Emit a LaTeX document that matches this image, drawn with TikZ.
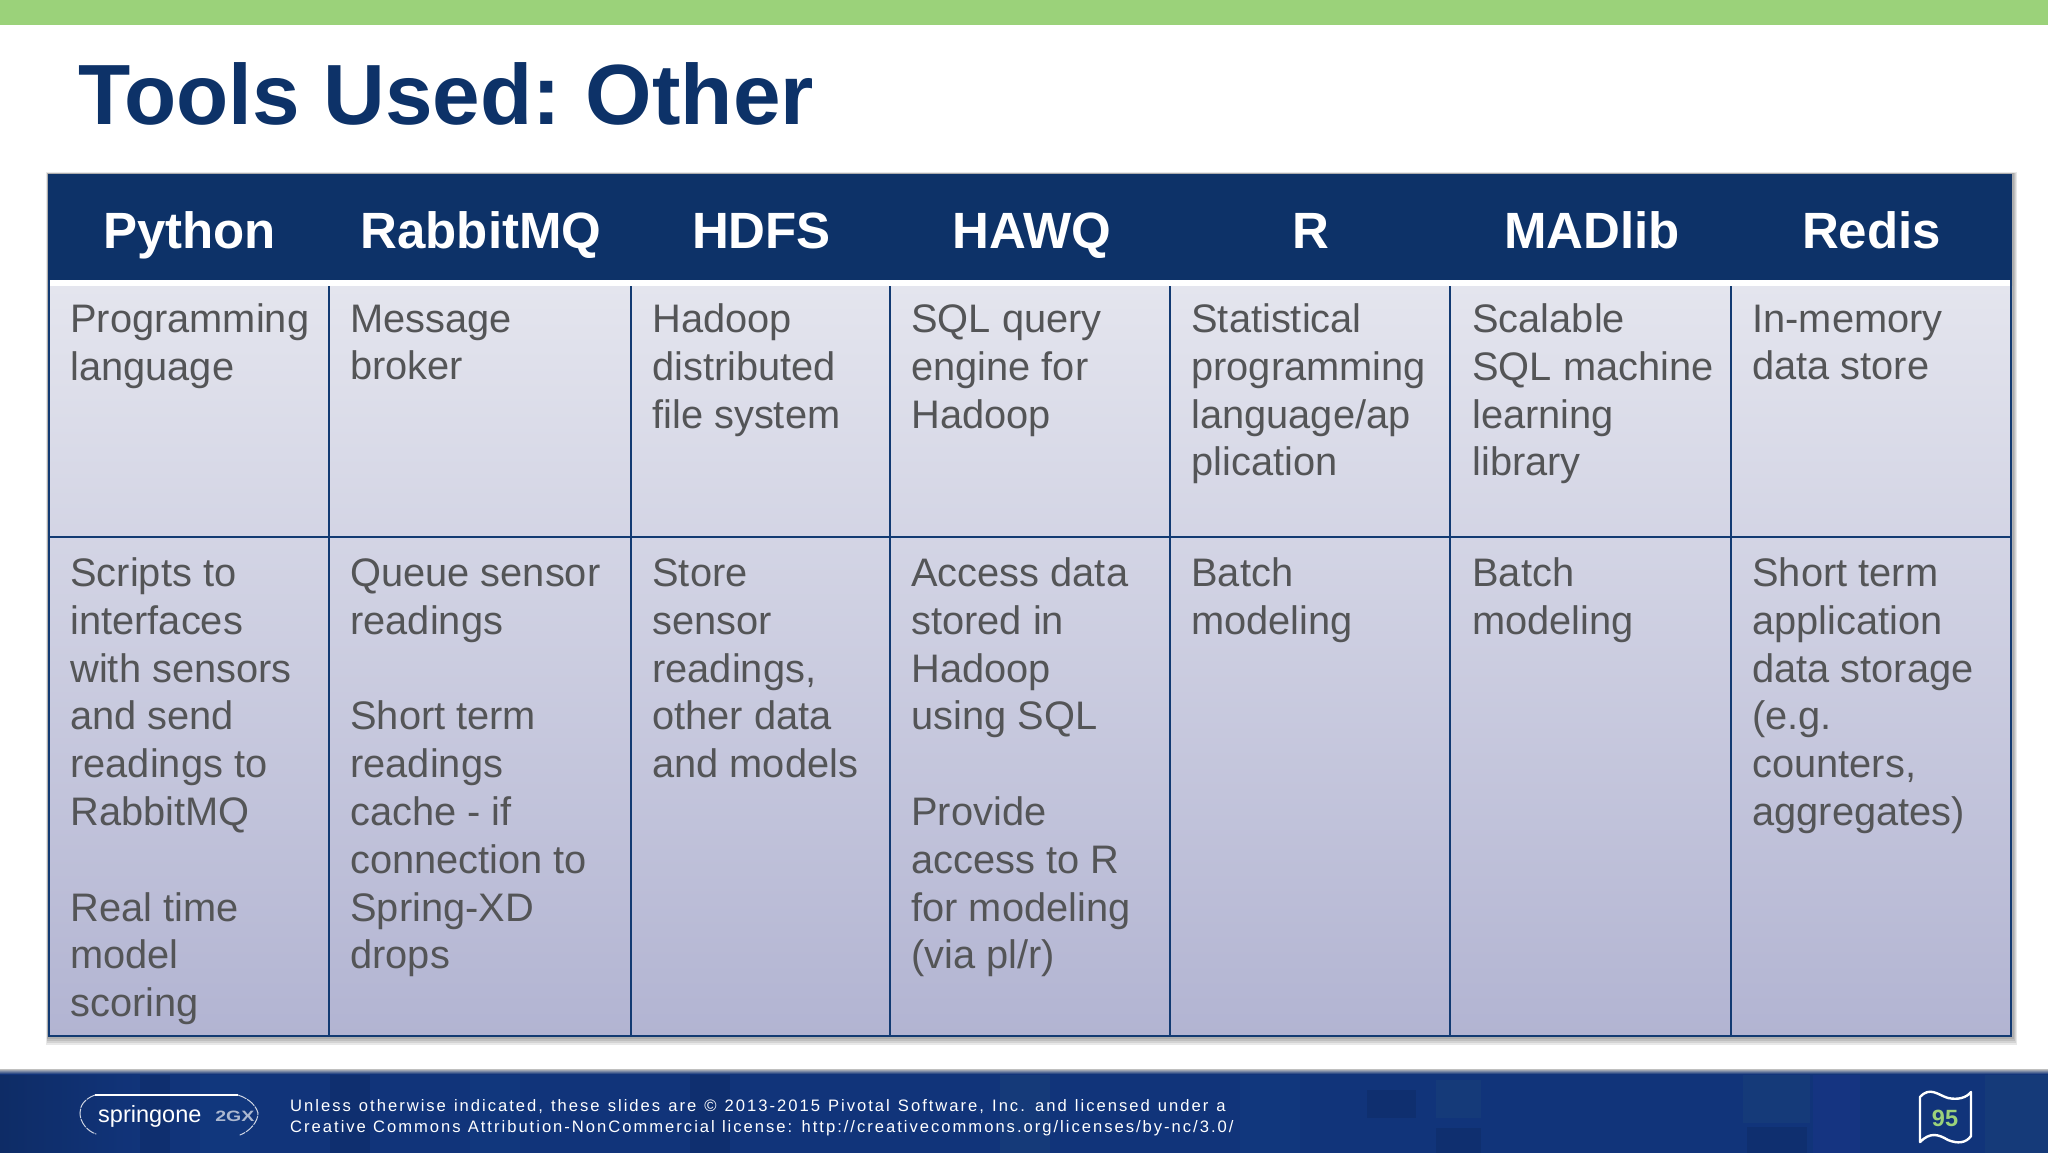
\documentclass[tikz,border=0pt]{standalone}
\usepackage{fontspec}
\setmainfont{Liberation Sans}
\newfontfamily\footfont[LetterSpace=12]{Liberation Sans}
\newcommand{\footlineA}{\footfont\fontsize{16.6}{20}\selectfont\spaceskip=\dimexpr\fontdimen2\font+1.5pt\relax}
\newcommand{\footlineB}{\footfont\fontsize{16.6}{20}\selectfont\spaceskip=\dimexpr\fontdimen2\font+0.55pt\relax}
\definecolor{navy}{HTML}{0D3268}
\definecolor{rule}{HTML}{123A72}
\definecolor{body}{HTML}{545557}
\definecolor{topgreen}{HTML}{9BD27A}
\definecolor{foot}{HTML}{11347A}
\definecolor{footdark}{HTML}{0E2C66}
\definecolor{footmid}{HTML}{123A80}
\definecolor{footsoft}{HTML}{1A4079}
\definecolor{footblue}{HTML}{1A3487}
\definecolor{celltop}{HTML}{E4E5EE}
\definecolor{cellbot}{HTML}{B2B4D2}
\tikzset{
  x=1pt,y=-1pt,
  celltext/.style={anchor=north west,inner sep=0pt,align=left,text=body,
    font=\fontsize{39.8}{47.8}\selectfont,
    execute at begin node={\rule{0pt}{30pt}},
    execute at end node={\rule[-12pt]{0pt}{12pt}}},
  headtext/.style={anchor=base,inner sep=0pt,text=white,font=\bfseries\fontsize{51}{56}\selectfont},
  gridline/.style={draw=rule,line width=2pt},
  foottext/.style={anchor=base west,inner sep=0pt,text=white},
  softshadow/.style={fill=black,opacity=.09},
  logoarc/.style={draw=white,draw opacity=.8,line width=1pt,dash pattern=on 9pt off 1.5pt,line cap=round},
  patch/.style={opacity=.55},
}
\begin{document}
\begin{tikzpicture}
\useasboundingbox (0,0) rectangle (2048,1152);
\fill[white] (0,0) rectangle (2048,1152);
% top bar
\fill[topgreen] (0,0) rectangle (2048,25);
% title
\node[anchor=base west,inner sep=0pt,text=navy,font=\bfseries\fontsize{85.5}{90}\selectfont] (title) at (78,124.5) {Tools Used:\kern-7pt{} Other};
% table shadow
\fill[softshadow] (46,172) rectangle (2017,1045);
\fill[softshadow] (46.5,172.5) rectangle (2016,1043);
\fill[softshadow] (47,173) rectangle (2015,1041);
\fill[softshadow] (47,173) rectangle (2014,1039);
% table body
\fill[white] (48,280) rectangle (2012,286);
\shade[top color=celltop,bottom color=cellbot] (48,286) rectangle (2012,1036);
\fill[navy] (48,174) rectangle (2012,280);
% grid
\draw[gridline] (49,280) -- (49,1036) -- (2011,1036) -- (2011,280);
\draw[gridline] (49,537) -- (2011,537);
\draw[gridline] (329,286) -- (329,1036);
\draw[gridline] (631,286) -- (631,1036);
\draw[gridline] (890,286) -- (890,1036);
\draw[gridline] (1170,286) -- (1170,1036);
\draw[gridline] (1450,286) -- (1450,1036);
\draw[gridline] (1731,286) -- (1731,1036);
% headers
\node[headtext] (h1) at (189.5,248) {Python};
\node[headtext] (h2) at (481,248) {RabbitMQ};
\node[headtext] (h3) at (761.5,248) {HDFS};
\node[headtext] (h4) at (1031.5,248) {HAWQ};
\node[headtext] (h5) at (1311,248) {R};
\node[headtext] (h6) at (1592,248) {MADlib};
\node[headtext] (h7) at (1871.5,248) {Redis};
% row 1
\node[celltext] (a1) at (70.2,303.5) {Programming\\language};
\node[celltext] (a2) at (350.2,304.5) {Message\\broker};
\node[celltext] (a3) at (652.2,303.5) {Hadoop\\distributed\\file system};
\node[celltext] (a4) at (911.2,304.5) {SQL query\\engine for\\Hadoop};
\node[celltext] (a5) at (1191.2,303.5) {Statistical\\programming\\language/ap\\plication};
\node[celltext] (a6) at (1472.2,303.5) {Scalable\\SQL machine\\learning\\library};
\node[celltext] (a7) at (1752.2,304.5) {In-memory\\data store};
% row 2
\node[celltext] (b1) at (70.2,557.5) {Scripts to\\interfaces\\with sensors\\and send\\readings to\\RabbitMQ\\[47.8pt]Real time\\model\\scoring};
\node[celltext] (b2) at (350.2,558.5) {Queue sensor\\readings\\[47.8pt]Short term\\readings\\cache - if\\connection to\\Spring-XD\\drops};
\node[celltext] (b3) at (652.2,558.5) {Store\\sensor\\readings,\\other data\\and models};
\node[celltext] (b4) at (911.2,557.5) {Access data\\stored in\\Hadoop\\using SQL\\[47.8pt]Provide\\access to R\\for modeling\\(via pl/r)};
\node[celltext] (b5) at (1191.2,557.5) {Batch\\modeling};
\node[celltext] (b6) at (1472.2,557.5) {Batch\\modeling};
\node[celltext] (b7) at (1752.2,557.5) {Short term\\application\\data storage\\(e.g.\\counters,\\aggregates)};
% footer
\fill[foot] (0,1072) rectangle (2048,1155);
\shade[left color=footdark,right color=foot] (0,1072) rectangle (140,1155);
\fill[footdark,patch] (140,1072) rectangle (170,1155);
\fill[footmid,patch] (200,1072) rectangle (250,1155);
\fill[footdark,patch] (330,1072) rectangle (370,1155);
\fill[footmid,patch] (470,1072) rectangle (520,1155);
\fill[footdark,patch] (690,1072) rectangle (730,1155);
\fill[footsoft,patch] (1000,1072) rectangle (1050,1155);
\fill[footmid,patch] (1240,1072) rectangle (1300,1155);
\fill[footdark,patch] (1367,1090) rectangle (1416,1118);
\fill[footsoft,patch] (1436,1080) rectangle (1481,1118);
\fill[footdark,patch] (1436,1128) rectangle (1481,1155);
\fill[footsoft,patch] (1743,1073) rectangle (1810,1123);
\fill[footdark,patch] (1747,1127) rectangle (1807,1155);
\fill[footblue,patch] (1813,1072) rectangle (1860,1155);
\fill[footsoft,patch] (1985,1072) rectangle (2048,1155);
\shade[top color=black!25,bottom color=foot] (0,1069) rectangle (2048,1074);
% footer text
\node[foottext] (f1) at (290,1111) {\footlineA Unless otherwise indicated, these slides are © 2013-2015 Pivotal Software, Inc. and licensed under a};
\node[foottext] (f2) at (290,1132) {\footlineB Creative Commons Attribution-NonCommercial license: http://creativecommons.org/licenses/by-nc/3.0/};
% logo
\node[anchor=base west,inner sep=0pt,text=white,font=\fontsize{23.5}{25}\selectfont] (logo) at (98,1122) {springone};
\node[anchor=base west,inner sep=0pt,text=white!65!foot,font=\bfseries\fontsize{15}{18}\selectfont,xscale=1.3] (logotwo) at (215,1121) {2GX};
\draw[white,line width=1.5pt] (95,1095) -- (238,1095);
\draw[logoarc] (95,1095) .. controls (84,1099) and (80,1106) .. (80,1113) .. controls (80,1122) and (87,1131) .. (96,1134);
\draw[logoarc] (238,1095) .. controls (250,1099) and (256,1106) .. (258,1113) .. controls (258,1122) and (250,1131) .. (240,1135);
% flag
\draw[white,line width=2.4pt,line join=round] (1920,1097) .. controls (1930,1086) and (1938,1095) .. (1948,1098) .. controls (1958,1100) and (1966,1098) .. (1971,1092) -- (1971,1136) .. controls (1966,1143) and (1958,1144) .. (1948,1140) .. controls (1938,1134) and (1930,1132) .. (1920,1142) -- cycle;
\node[inner sep=0pt,text=topgreen,font=\bfseries\fontsize{23.5}{25}\selectfont] (page) at (1945,1118) {95};
\end{tikzpicture}
\end{document}
